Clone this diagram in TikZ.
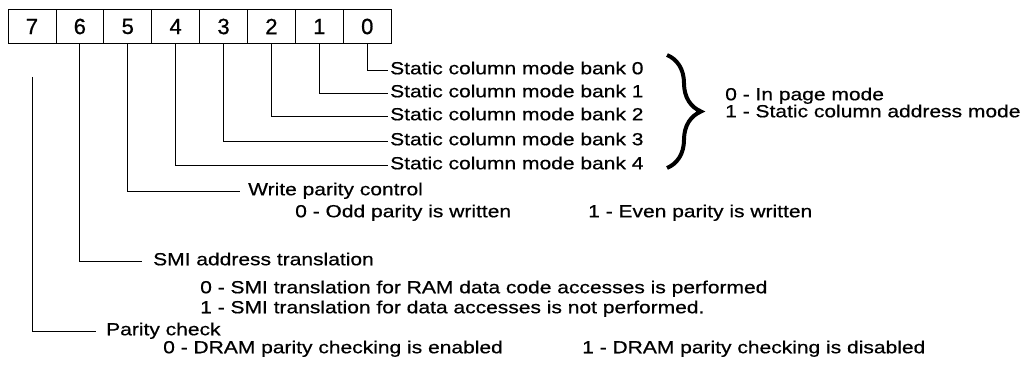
\documentclass[tikz,border=0pt]{standalone}
\usepackage{fontspec}
\setmainfont[FakeStretch=1.2, FakeBold=0.6]{Liberation Sans}
\newfontfamily\digitfont[FakeBold=0.8]{Liberation Sans}
\usetikzlibrary{decorations.pathreplacing}

\tikzset{
  bitcell/.style={draw, line width=0.8pt, minimum width=47.9pt, minimum height=34pt,
    inner sep=0pt, font=\digitfont\fontsize{22}{24}\selectfont},
  lbl/.style={anchor=west, inner sep=0pt, text height=12pt, text depth=3.5pt,
    font=\fontsize{17.5}{20}\selectfont},
  conn/.style={line width=0.8pt}
}

\begin{document}
\begin{tikzpicture}[x=1pt, y=-1pt]
  \useasboundingbox (0,0) rectangle (1025,366);
  \foreach \b in {0,...,7} {
    \node[bitcell] (b\b) at ({8+47.9*(7-\b)+23.95}, 26.5) {\b};
  }
  % static column banks
  \foreach \b/\y in {0/70,1/93,2/116,3/141,4/165} {
    \node[lbl] (bank\b) at (390, \y) {Static column mode bank \b};
    \draw[conn] (b\b.south) |- ([xshift=-2pt]bank\b.west);
  }
  \coordinate (brtop) at (667,55);
  \coordinate (brbot) at (667,168);
  \draw[line width=4pt, decorate, decoration={brace, amplitude=34pt}] (brtop) -- (brbot);
  \node[lbl] (mode0) at (725, 96) {0 - In page mode};
  \node[lbl] (mode1) at (725, 113) {1 - Static column address mode};
  % bit 5
  \node[lbl] (wpc) at (248, 191) {Write parity control};
  \draw[conn] (b5.south) |- ([xshift=-8pt]wpc.west);
  \node[lbl] (wp0) at (295, 213) {0 - Odd parity is written};
  \node[lbl] (wp1) at (588, 213) {1 - Even parity is written};
  % bit 6
  \node[lbl] (smi) at (153, 261) {SMI address translation};
  \draw[conn] (b6.south) |- ([xshift=-11pt]smi.west);
  \node[lbl] (smi0) at (200, 289) {0 - SMI translation for RAM data code accesses is performed};
  \node[lbl] (smi1) at (200, 309) {1 - SMI translation for data accesses is not performed.};
  % bit 7
  \coordinate (p7) at ([yshift=-33pt]b7.south);
  \node[lbl] (pc) at (106, 331) {Parity check};
  \draw[conn] (p7) |- ([xshift=-10pt]pc.west);
  \node[lbl] (pc0) at (163, 349) {0 - DRAM parity checking is enabled};
  \node[lbl] (pc1) at (582, 349) {1 - DRAM parity checking is disabled};
\end{tikzpicture}
\end{document}
